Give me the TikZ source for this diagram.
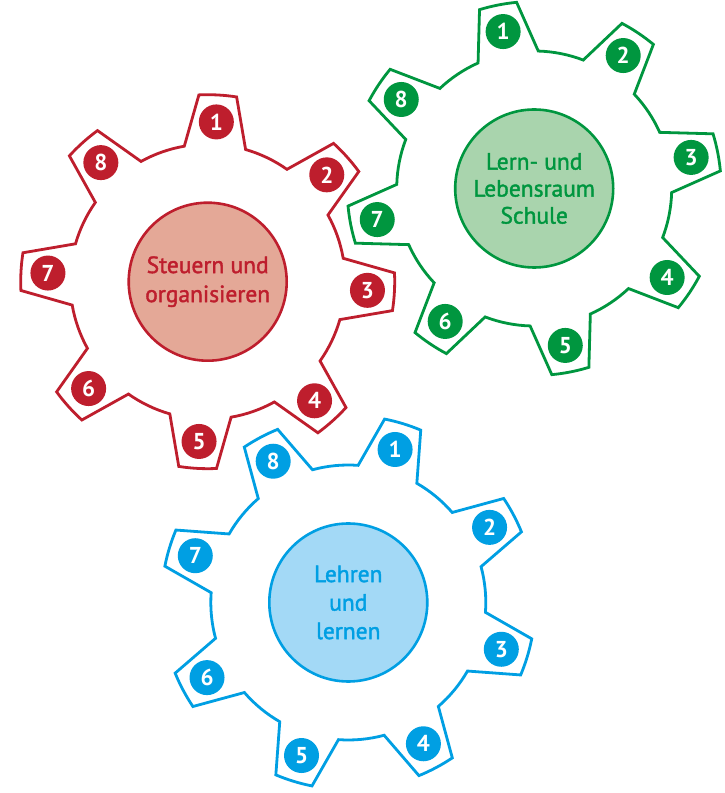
\documentclass[tikz,border=0pt]{standalone}
\usepackage{fontspec}
\setmainfont{PT Sans}
\newfontfamily\hubfont[FakeBold=1.6]{PT Sans}
\definecolor{rd}{HTML}{BE1E2D}
\definecolor{rdfill}{HTML}{E4A897}
\definecolor{gn}{HTML}{00963F}
\definecolor{gnfill}{HTML}{A9D4AD}
\definecolor{bl}{HTML}{009FE3}
\definecolor{blfill}{HTML}{A3D9F6}
\tikzset{
  gearline/.style={line width=2.8pt, line join=miter, fill=white},
  hub/.style={circle, line width=2.6pt, minimum size=158pt, inner sep=0pt, align=center,
    font=\hubfont\fontsize{23.5}{29}\selectfont},
  numdot/.style={circle, minimum size=35pt, inner sep=0pt, text=white,
    font=\fontsize{23}{23}\selectfont\bfseries},
}
\newcommand\gearoutline[2]{% #1 colour, #2 start angle
  \draw[gearline, draw=#1] ({#2-12.9}:137.5)
    \foreach \k [evaluate=\k as \a using #2+45*\k] in {0,...,7} {
      -- ({\a-5.8}:187) arc[start angle={\a-5.8}, end angle={\a+5.8}, radius=187]
      -- ({\a+12.9}:137.5) arc[start angle={\a+12.9}, end angle={\a+45-12.9}, radius=137.5]
    } -- cycle;
}
\begin{document}
\begin{tikzpicture}[x=1pt,y=1pt]
\useasboundingbox (0,0) rectangle (725,793);
% red gear
\begin{scope}[shift={(207.7,511.3)}]
  \gearoutline{rd}{86.9}
  \node[hub, draw=rd, fill=rdfill, text=rd] (redhub) at (0,0) {Steuern und\\organisieren};
  \foreach \n in {1,...,8} {
    \node[numdot, fill=rd] (red\n) at ({86.9-45*(\n-1)}:160) {\n};
  }
\end{scope}
% green gear
\begin{scope}[shift={(534.2,604.5)}]
  \gearoutline{gn}{101.2}
  \node[hub, draw=gn, fill=gnfill, text=gn, font=\hubfont\fontsize{23.5}{27}\selectfont] (greenhub) at (0,0) {Lern- und\\Lebensraum\\Schule};
  \foreach \n in {1,...,8} {
    \node[numdot, fill=gn] (green\n) at ({101.2-45*(\n-1)}:160) {\n};
  }
\end{scope}
% blue gear
\begin{scope}[shift={(348.3,190.5)}]
  \gearoutline{bl}{73}
  \node[hub, draw=bl, fill=blfill, text=bl, font=\hubfont\fontsize{23.5}{28.5}\selectfont] (bluehub) at (0,0) {Lehren\\und\\lernen};
  \foreach \n in {1,...,8} {
    \node[numdot, fill=bl] (blue\n) at ({73-45*(\n-1)}:160) {\n};
  }
\end{scope}
\end{tikzpicture}
\end{document}
